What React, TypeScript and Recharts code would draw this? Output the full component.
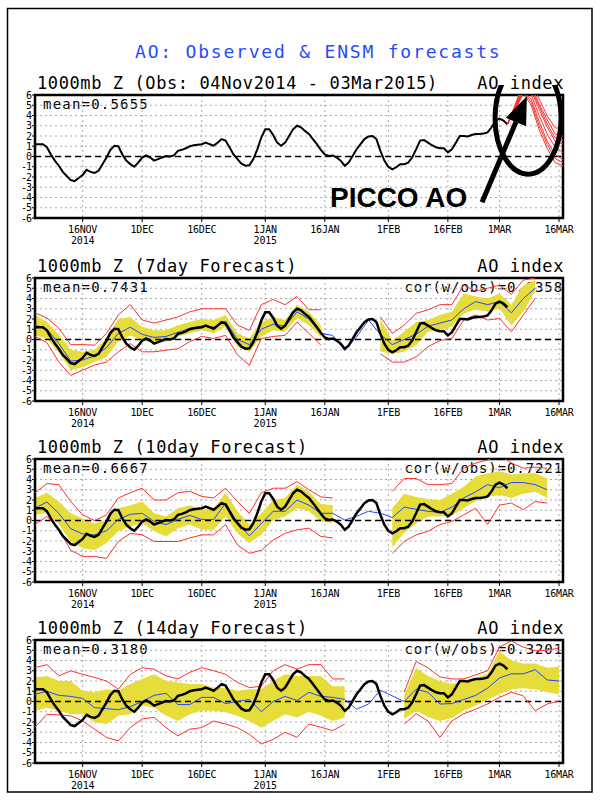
import {
  Area,
  CartesianGrid,
  ComposedChart,
  Line,
  ReferenceArea,
  ReferenceDot,
  ReferenceLine,
  XAxis,
  YAxis,
} from "recharts"

const FONT = "'DejaVu Sans Mono', monospace"

// x axis = days since 04Nov2014
const dateTicks = [12, 27, 42, 58, 73, 89, 104, 117, 132]
const dateLabels = ["16NOV", "1DEC", "16DEC", "1JAN", "16JAN", "1FEB", "16FEB", "1MAR", "16MAR"]
const yearLabels = ["2014", "", "", "2015", "", "", "", "", ""]
const valueTicks = [-6, -5, -4, -3, -2, -1, 0, 1, 2, 3, 4, 5, 6]

// observed AO, daily 04Nov2014 - 03Mar2015
const observed = [
  1.2, 1.2, 1.2, 0.9, 0.2, -0.4, -0.9, -1.5, -1.9, -2.3,
  -2.4, -2.1, -1.8, -1.3, -1.5, -1.6, -1.4, -0.75, -0.1, 0.65,
  1.05, 1.0, 0.2, -0.4, -0.75, -1.0, -0.6, -0.1, 0.1, -0.1,
  -0.4, -0.25, -0.1, 0.05, 0.0, 0.1, 0.55, 0.65, 0.8, 1.0,
  1.1, 1.15, 1.2, 1.35, 1.2, 1.05, 1.35, 1.7, 1.55, 0.9,
  0.2, -0.25, -0.7, -0.9, -0.85, -0.25, 0.7, 1.85, 2.65, 2.65,
  2.1, 1.35, 1.05, 1.35, 2.0, 2.65, 3.0, 2.85, 2.5, 2.2,
  1.7, 1.2, 0.65, 0.2, 0.05, 0.1, -0.1, -0.4, -0.9, -0.6,
  0.05, 0.7, 1.2, 1.7, 1.95, 2.0, 1.7, 0.55, -0.4, -1.0,
  -1.25, -1.05, -0.75, -0.75, -0.6, -0.1, 0.7, 1.55, 1.6, 1.35,
  1.1, 0.9, 0.8, 0.8, 0.4, 0.7, 1.35, 2.0, 2.0, 1.95,
  2.1, 2.2, 2.2, 2.25, 2.35, 2.85, 3.5, 3.7, 3.5, 3.15,
]

// ensemble members from 03Mar2015 (top panel)
const ensembleDays = [119, 121, 123, 125, 127, 129, 131, 133]
const ens1 = [3.15, 4.5, 6.2, 5.0, 2.6, 0.8, -0.6, -0.9]
const ens2 = [3.15, 4.6, 6.4, 5.6, 3.4, 1.5, 0.2, -0.3]
const ens3 = [3.15, 4.7, 6.6, 6.0, 4.0, 2.2, 0.9, 0.4]
const ens4 = [3.15, 4.8, 6.8, 6.4, 4.6, 2.9, 1.5, 1.2]
const ens5 = [3.15, 5.0, 7.0, 6.9, 5.1, 3.6, 2.2, 2.0]
const ens6 = [3.15, 5.1, 7.2, 7.3, 5.6, 4.0, 2.8, 2.7]
const ens7 = [3.15, 4.6, 6.3, 5.3, 3.0, 1.2, -0.2, -0.6]
const ens8 = [3.15, 4.9, 6.9, 6.6, 4.9, 3.2, 1.8, 1.6]
const ensembleMembers = [ens1, ens2, ens3, ens4, ens5, ens6, ens7, ens8]

// 7day forecast
const days7 = [0, 3, 6, 9, 12, 15, 18, 21, 24, 27, 30, 33, 36, 39, 42, 45, 48, 51, 54, 57, 60, 63, 66, 69, 72, 75, 78, 81, 84, 87, 90, 93, 96, 99, 102, 105, 108, 111, 114, 117, 120, 123, 126]
const hi7 = [2.4, 1.7, 0.5, -1.0, -1.2, -1.0, 0.1, 2.0, 2.2, 1.25, 0.9, 0.9, 1.4, 1.7, 2.0, 1.9, 2.4, 0.6, 0.1, 1.7, 2.2, 1.9, 3.4, 2.7, 1.4, null, null, null, null, 2.0, -0.1, 0.75, 1.7, 1.9, 2.4, 2.7, 4.5, 4.2, 4.0, 4.5, 3.4, 5.3, 5.8]
const lo7 = [0.4, 0.1, -1.3, -3.0, -2.7, -2.2, -1.7, -0.2, 0.4, -0.1, -0.4, -0.2, 0.3, 0.6, 0.9, 0.6, 1.25, -0.7, -1.2, 0.3, 0.9, 0.75, 2.1, 1.4, 0.25, null, null, null, null, -1.2, -1.4, -1.2, -0.55, 0.75, 0.9, 1.25, 2.55, 2.9, 2.7, 3.05, 1.4, 2.7, 4.7]
const mean7 = [1.4, 1.0, -0.4, -2.1, -2.0, -1.6, -0.8, 0.6, 1.2, 0.5, 0.2, 0.3, 0.7, 1.1, 1.3, 1.2, 1.8, 0.0, -0.5, 1.0, 1.5, 1.3, 2.7, 2.0, 0.6, 0.4, -1.05, 0.25, 1.9, 0.5, -0.5, 0.0, 0.5, 1.3, 1.6, 1.9, 3.0, 3.7, 3.4, 3.7, 2.6, 4.0, 5.0]
const up7 = [2.6, 2.1, 1.1, -0.5, -0.5, -0.55, 0.6, 2.4, 3.4, 1.9, 1.6, 1.9, 2.2, 2.7, 3.0, 3.0, 3.0, 1.4, 0.9, 3.4, 3.9, 3.4, 4.2, 2.9, 2.9, null, null, null, null, 2.2, 0.6, 1.4, 2.55, 2.9, 3.4, 3.4, 5.3, 4.7, 5.0, 5.3, 4.4, 5.8, 6.0]
const dn7 = [0.3, -0.3, -2.2, -3.5, -3.0, -2.5, -2.2, -1.2, -0.4, -1.2, -1.2, -1.05, -0.9, -0.2, 0.3, 0.1, 0.4, -1.5, -2.5, 0.1, 0.3, 0.4, 1.7, 0.6, -0.55, null, null, null, null, -1.4, -2.2, -2.2, -1.7, -0.7, -0.1, 0.1, 1.9, 2.4, 1.9, 2.05, 0.75, 2.4, 4.0]

// 10day forecast
const days10 = [0, 3, 6, 9, 12, 15, 18, 21, 24, 27, 30, 33, 36, 39, 42, 45, 48, 51, 54, 57, 60, 63, 66, 69, 72, 75, 78, 81, 84, 87, 90, 93, 96, 99, 102, 105, 108, 111, 114, 117, 120, 123, 126, 129]
const hi10 = [2.2, 2.7, 1.85, 0.7, 0.2, -0.3, 0.05, 1.2, 1.5, 1.85, 0.7, 0.4, 1.2, 1.5, 1.05, 1.2, 2.7, 0.9, -0.4, 0.7, 2.0, 2.2, 3.5, 2.8, 1.6, 1.5, null, null, null, null, 1.2, 2.6, 2.3, 2.1, 2.0, 2.6, 3.3, 4.3, 4.6, 4.8, 4.5, 4.6, 4.6, 4.1]
const lo10 = [0.55, 0.7, -0.4, -2.05, -2.7, -2.9, -2.2, -1.05, -0.6, -0.25, -1.05, -1.55, -0.75, -0.4, -0.9, -0.9, 0.4, -1.25, -2.2, -1.4, 0.05, 0.4, 1.2, 0.9, -0.1, -0.25, null, null, null, null, -2.6, -1.2, -0.3, 0.4, 0.4, 0.5, 1.2, 1.9, 2.3, 2.5, 2.2, 2.6, 2.8, 2.2]
const mean10 = [1.2, 1.8, 0.7, -0.8, -1.3, -1.4, -1.0, 0.1, 0.6, 0.7, -0.1, -0.4, 0.1, 0.5, 0.1, 0.1, 1.7, -0.2, -1.5, -0.3, 0.9, 0.9, 2.0, 1.5, 0.7, 0.7, 0.05, 0.4, 0.9, 0.7, 0.3, 1.3, 1.1, 0.9, 0.8, 1.3, 2.2, 2.8, 3.5, 3.2, 3.7, 3.7, 3.5, 3.0]
const up10 = [2.7, 3.6, 3.5, 1.85, 0.55, 0.0, 0.55, 2.2, 2.7, 3.15, 2.0, 2.0, 2.7, 2.85, 2.35, 2.2, 3.15, 1.85, 0.7, 2.7, 3.15, 3.15, 3.8, 3.0, 2.3, 2.2, null, null, null, null, 2.85, 4.1, 4.1, 3.5, 3.5, 3.6, 5.1, 5.6, 5.9, 6.4, 5.6, 5.1, 5.2, 5.1]
const dn10 = [-0.4, 0.4, -0.9, -2.9, -3.5, -3.5, -3.7, -2.05, -1.25, -1.4, -2.05, -2.05, -2.05, -1.7, -1.4, -1.4, -0.4, -2.4, -3.2, -2.9, -1.9, -1.25, -0.9, -0.75, -1.55, -1.7, null, null, null, null, -3.2, -2.05, -1.4, -1.05, -0.4, -0.1, 0.55, 1.2, -0.4, 1.5, 1.7, 1.05, 1.85, 1.7]

// 14day forecast
const days14 = [0, 3, 6, 9, 12, 15, 18, 21, 24, 27, 30, 33, 36, 39, 42, 45, 48, 51, 54, 57, 60, 63, 66, 69, 72, 75, 78, 81, 84, 87, 90, 93, 96, 99, 102, 105, 108, 111, 114, 117, 120, 123, 126, 129, 132]
const hi14 = [2.35, 2.5, 2.0, 2.0, 1.05, 0.9, 1.2, 1.05, 1.7, 2.2, 2.65, 2.0, 1.85, 1.7, 1.7, 1.35, 1.35, 1.05, 1.2, 1.2, 2.0, 2.65, 2.5, 2.5, 2.5, 1.5, 1.5, null, null, null, null, 0.55, 3.3, 2.5, 2.0, 1.7, 2.0, 2.3, 2.7, 4.9, 4.0, 3.7, 3.7, 3.3, 3.4]
const lo14 = [-0.9, -0.6, -0.9, -1.25, -1.25, -2.05, -2.2, -1.4, -1.25, -0.4, -0.6, -1.4, -1.9, -1.25, -0.9, -0.9, -1.05, -1.4, -1.9, -2.55, -1.9, -1.25, -1.55, -1.0, -1.4, -1.9, -1.55, null, null, null, null, -1.7, -0.9, -1.5, -1.9, -1.6, -0.9, -0.4, 0.2, 0.7, 1.2, 1.3, 1.2, 0.9, 0.7]
const mean14 = [0.7, 1.0, 0.6, 0.5, 0.3, -0.6, -0.7, -0.8, -0.5, 0.0, 0.6, 0.8, -0.3, -0.3, 0.4, 0.4, -0.2, 0.0, 0.2, -1.0, 0.0, 0.5, 0.1, 0.9, 0.5, 0.4, 0.2, -0.75, -0.25, 1.1, 0.55, 0.0, 1.2, 0.9, -0.25, -0.2, 0.2, 0.6, 1.3, 2.3, 2.7, 2.7, 3.1, 2.1, 2.0]
const up14 = [3.3, 3.6, 2.5, 3.0, 2.65, 2.35, 2.0, 1.2, 2.65, 3.3, 3.15, 2.5, 2.2, 2.85, 3.3, 3.0, 2.65, 1.85, 1.35, 1.5, 3.0, 3.6, 3.15, 3.6, 3.6, 2.2, 2.2, null, null, null, null, 0.9, 3.9, 3.3, 2.4, 2.2, 2.2, 2.6, 3.0, 5.3, 5.9, 5.3, 4.95, 5.0, 5.2]
const dn14 = [-2.5, -1.25, -1.3, -1.4, -1.9, -2.7, -3.5, -3.85, -2.55, -1.7, -1.55, -2.55, -3.35, -2.7, -2.55, -1.9, -2.2, -2.55, -3.2, -4.15, -3.7, -3.0, -3.5, -2.2, -2.5, -2.85, -2.2, null, null, null, null, -2.2, -1.2, -1.9, -3.5, -1.9, -1.2, -0.75, -0.25, 0.4, 0.9, 0.55, -0.9, -0.25, 0.05]

const obsRows = observed.map((v, i) => ({ d: i, obs: v }))
const ensRows = ensembleDays.map((d, i) => {
  const row: any = { d }
  ensembleMembers.forEach((m, k) => (row["e" + k] = m[i]))
  return row
})

function buildRows(days: number[], hi: any[], lo: any[], mean: number[], up: any[], dn: any[]) {
  return days.map((d, i) => ({
    d,
    band: hi[i] == null ? null : [lo[i], hi[i]],
    mean: mean[i],
    up: up[i],
    dn: dn[i],
  }))
}

const rows7 = buildRows(days7, hi7, lo7, mean7, up7, dn7)
const rows10 = buildRows(days10, hi10, lo10, mean10, up10, dn10)
const rows14 = buildRows(days14, hi14, lo14, mean14, up14, dn14)

const YELLOW = "#e6dc3a"
const RED = "#ff3030"
const BLUE = "#2448ff"

function DateTick(props: any) {
  const { x, y, payload } = props
  const i = dateTicks.indexOf(payload.value)
  return (
    <g>
      <text x={x} y={y + 9} textAnchor="middle" fontSize={10} letterSpacing={-0.2} fontFamily={FONT} fill="#000">
        {dateLabels[i]}
      </text>
      {yearLabels[i] ? (
        <text x={x} y={y + 20} textAnchor="middle" fontSize={10} letterSpacing={-0.2} fontFamily={FONT} fill="#000">
          {yearLabels[i]}
        </text>
      ) : null}
    </g>
  )
}

function Ellipse(p: any) {
  return <ellipse cx={p.cx} cy={p.cy} rx={33} ry={56} fill="none" stroke="#000" strokeWidth={5} />
}

function Arrow(p: any) {
  const { x1, y1, x2, y2 } = p
  const a = Math.atan2(y2 - y1, x2 - x1)
  const bx = x2 - 28 * Math.cos(a)
  const by = y2 - 28 * Math.sin(a)
  const ox = 11 * Math.sin(a)
  const oy = -11 * Math.cos(a)
  return (
    <g>
      <line x1={x1} y1={y1} x2={bx} y2={by} stroke="#000" strokeWidth={5} />
      <polygon points={`${x2},${y2} ${bx + ox},${by + oy} ${bx - ox},${by - oy}`} fill="#000" />
    </g>
  )
}

function PiccoLabel(p: any) {
  return (
    <text x={p.cx} y={p.cy} fontFamily="'Liberation Sans', Arial, sans-serif" fontWeight={700} fontSize={28} fill="#000">
      PICCO AO
    </text>
  )
}

function axes() {
  return [
    <CartesianGrid key="g" stroke="#aaaaaa" strokeDasharray="2 3" />,
    <XAxis
      key="x"
      type="number"
      dataKey="d"
      domain={[0, 133]}
      ticks={dateTicks}
      interval={0}
      tick={DateTick}
      tickSize={4}
      tickLine={{ stroke: "#000" }}
      axisLine={false}
      height={30}
      allowDataOverflow
    />,
    <YAxis
      key="y"
      type="number"
      domain={[-6, 6]}
      ticks={valueTicks}
      interval={0}
      width={35}
      tickSize={3}
      tickMargin={1}
      axisLine={false}
      tickLine={{ stroke: "#000" }}
      tick={{ fontSize: 10, fill: "#000", fontFamily: FONT, letterSpacing: -1 }}
      allowDataOverflow
    />,
  ]
}

const CHART_MARGIN = { top: 10, right: 37, bottom: 0, left: 0 }

function ObservedChart() {
  return (
    <ComposedChart width={600} height={163} data={obsRows} margin={CHART_MARGIN}>
      {axes()}
      <ReferenceLine y={0} stroke="#000" strokeDasharray="6 4" strokeWidth={1.3} />
      <Line data={obsRows} dataKey="obs" stroke="#000" strokeWidth={2} dot={false} isAnimationActive={false} />
      {ensembleMembers.map((_, k) => (
        <Line
          key={k}
          data={ensRows}
          dataKey={"e" + k}
          stroke={RED}
          strokeWidth={1}
          dot={false}
          isAnimationActive={false}
        />
      ))}
      <ReferenceArea x1={0} x2={133} y1={-6} y2={6} fill="none" stroke="#000" strokeWidth={2.5} ifOverflow="visible" />
      <ReferenceDot x={74.3} y={-4.95} ifOverflow="visible" shape={PiccoLabel} />
      <ReferenceLine
        segment={[
          { x: 112.6, y: -4.46 },
          { x: 123.9, y: 5.88 },
        ]}
        ifOverflow="visible"
        shape={Arrow}
      />
      <ReferenceDot x={124.2} y={3.74} ifOverflow="visible" shape={Ellipse} />
    </ComposedChart>
  )
}

function ForecastChart({ rows }: { rows: any[] }) {
  return (
    <ComposedChart width={600} height={163} data={rows} margin={CHART_MARGIN}>
      {axes()}
      <Area dataKey="band" fill={YELLOW} fillOpacity={1} stroke="none" isAnimationActive={false} />
      <ReferenceLine y={0} stroke="#000" strokeDasharray="6 4" strokeWidth={1.3} />
      <Line dataKey="up" stroke={RED} strokeWidth={1} dot={false} isAnimationActive={false} />
      <Line dataKey="dn" stroke={RED} strokeWidth={1} dot={false} isAnimationActive={false} />
      <Line dataKey="mean" stroke={BLUE} strokeWidth={1} dot={false} isAnimationActive={false} />
      <Line data={obsRows} dataKey="obs" stroke="#000" strokeWidth={2.5} dot={false} isAnimationActive={false} />
      <ReferenceArea x1={0} x2={133} y1={-6} y2={6} fill="none" stroke="#000" strokeWidth={2.5} ifOverflow="visible" />
    </ComposedChart>
  )
}

const panelTops = [95, 278, 459, 640]
const panelTitles = [
  "1000mb Z (Obs: 04Nov2014 - 03Mar2015)",
  "1000mb Z (7day Forecast)",
  "1000mb Z (10day Forecast)",
  "1000mb Z (14day Forecast)",
]
const meanTexts = ["mean=0.5655", "mean=0.7431", "mean=0.6667", "mean=0.3180"]
const corTexts = ["", "cor(w/obs)=0.8358", "cor(w/obs)=0.7221", "cor(w/obs)=0.3201"]

export default function App() {
  return (
    <div style={{ position: "absolute", left: 0, top: 0, width: 600, height: 800, background: "#fff" }}>
      <svg width={600} height={800} style={{ position: "absolute", left: 0, top: 0 }}>
        <rect x={7.5} y={8.5} width={584.5} height={783.5} fill="none" stroke="#000" strokeWidth={1.5} />
        <text x={135} y={58} fontFamily={FONT} fontSize={18} letterSpacing={1.8} fill="#1f4cff">
          AO: Observed &amp; ENSM forecasts
        </text>
        {panelTops.map((t, i) => (
          <g key={i} fontFamily={FONT} fill="#000">
            <text x={37} y={t - 6} fontSize={17} letterSpacing={0.6}>
              {panelTitles[i]}
            </text>
            <text x={564} y={t - 6} fontSize={17} letterSpacing={0.6} textAnchor="end">
              AO index
            </text>
            <text x={43} y={t + 14} fontSize={14} letterSpacing={1.2}>
              {meanTexts[i]}
            </text>
            {corTexts[i] ? (
              <text x={563} y={t + 14} fontSize={14} letterSpacing={0.9} textAnchor="end">
                {corTexts[i]}
              </text>
            ) : null}
          </g>
        ))}
      </svg>
      <div style={{ position: "absolute", left: 0, top: panelTops[0] - 10 }}>
        <ObservedChart />
      </div>
      <div style={{ position: "absolute", left: 0, top: panelTops[1] - 10 }}>
        <ForecastChart rows={rows7} />
      </div>
      <div style={{ position: "absolute", left: 0, top: panelTops[2] - 10 }}>
        <ForecastChart rows={rows10} />
      </div>
      <div style={{ position: "absolute", left: 0, top: panelTops[3] - 10 }}>
        <ForecastChart rows={rows14} />
      </div>
    </div>
  )
}
